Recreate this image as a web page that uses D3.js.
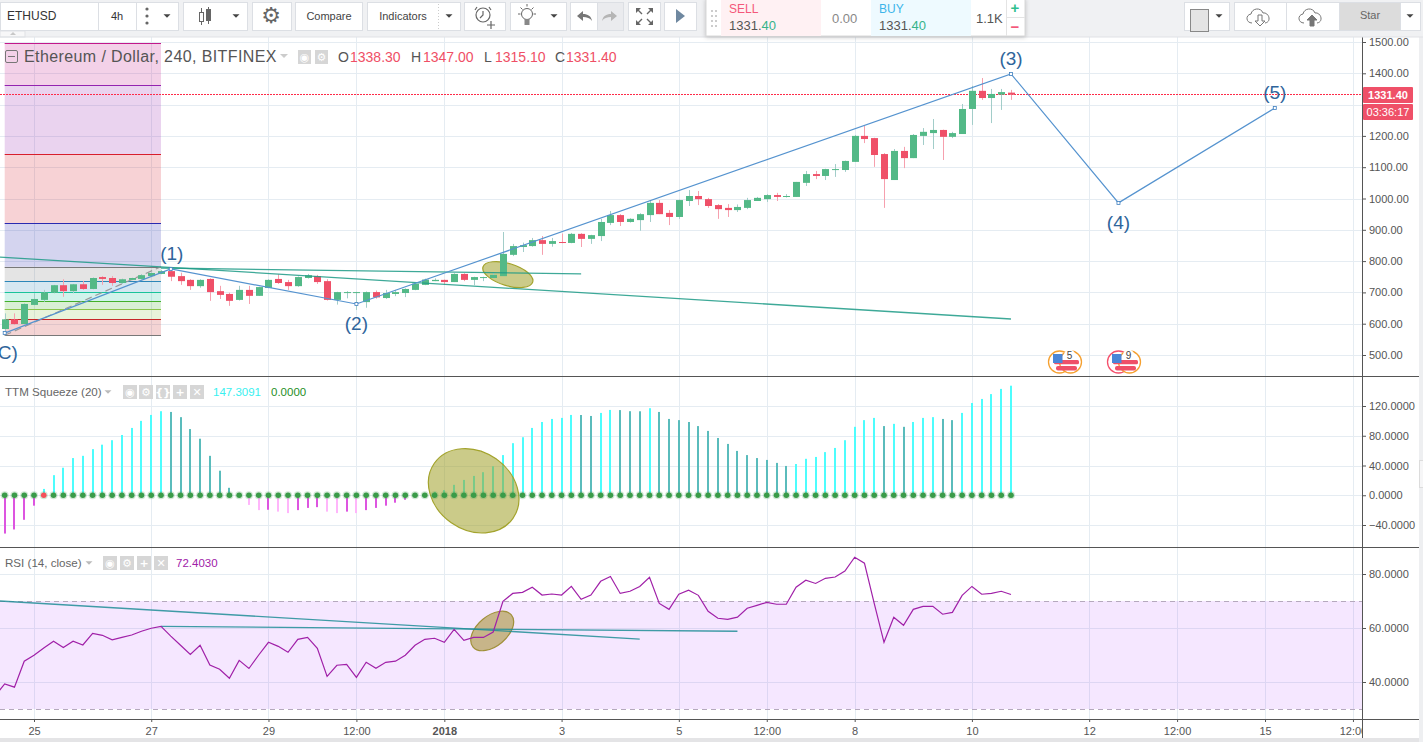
<!DOCTYPE html>
<html>
<head>
<meta charset="utf-8">
<title>ETHUSD</title>
<script src="https://cdnjs.cloudflare.com/ajax/libs/d3/7.8.5/d3.min.js"></script>
<style>
  html, body { margin: 0; padding: 0; background: #fff; overflow: hidden; }
  text { font-family: "Liberation Sans", Arial, sans-serif; }
</style>
</head>
<body>
<svg id="chart" width="1423" height="742"></svg>
<script>
// bar numbers count 4h bars from Dec 25 (0); the first candle is bar -3
const firstBar = -3;
const candleOpen = [583,614,599,660,676,699,723,704,726,711,749,746,730,740,743,752,759,768,752,740,
  720,743,704,695,676,708,689,714,743,733,720,746,752,736,676,699,701,669,701,682,
  695,698,708,724,736,740,733,759,740,746,746,752,820,845,848,867,855,861,858,887,
  871,880,922,947,925,931,947,986,954,941,992,1008,998,979,970,963,970,992,998,1011,
  1005,1005,1050,1078,1072,1091,1091,1117,1200,1193,1142,1059,1152,1129,1200,1209,1219,1197,1206,1286,
  1344,1321,1332,1338.3];
const candleClose = [614,599,663,679,700,723,704,726,711,746,743,730,742,746,755,762,768,750,736,720,
  740,701,692,673,708,689,717,740,730,720,749,755,733,676,701,701,701,701,684,698,
  701,711,728,741,740,733,759,740,749,749,756,823,848,851,867,855,864,858,887,871,
  883,925,947,925,935,950,986,950,941,995,1008,998,976,966,963,973,995,1002,1011,1005,
  1008,1053,1078,1072,1094,1094,1120,1200,1190,1139,1062,1152,1129,1203,1213,1219,1197,1209,1286,1344,
  1321,1334,1340,1331.4];
const candleHigh = [633,633,665,697,708,724,742,727,737,748,752,752,744,747,758,764,772,774,763,742,
  742,745,721,699,721,721,718,742,758,740,751,759,756,742,702,704,702,703,706,708,
  708,713,730,744,745,741,761,761,750,750,765,893,855,859,874,880,874,888,890,889,
  884,935,960,950,937,953,995,995,963,997,1027,1024,1002,982,982,981,1002,1005,1014,1018,
  1014,1053,1088,1088,1095,1110,1121,1203,1232,1194,1145,1158,1165,1206,1225,1254,1220,1213,1302,1360,
  1385,1350,1350,1347];
const candleLow = [575,596,598,659,670,697,686,697,708,710,724,721,727,739,741,750,758,736,724,708,
  715,673,679,657,674,663,689,713,727,708,718,744,727,674,661,681,644,651,680,679,
  688,685,707,723,736,725,733,736,723,736,745,752,816,829,846,820,846,857,857,845,
  855,864,915,912,923,897,925,950,915,935,976,979,970,935,941,957,966,992,989,992,
  1003,1005,1040,1062,1059,1069,1085,1117,1177,1101,970,1059,1097,1129,1171,1158,1123,1193,1206,1235,
  1315,1241,1283,1315.1];

const ttmValues = [-51.5,-46,-33,-14,8.5,27,37,50,53,62,68,74,81,90.5,100,108,113,112,105,89,
  76,53,33,10,0,-13,-20,-19.5,-22,-24,-20,-17,-16,-22,-24,-22,-24,-20,-17,-14,
  -10,-6,-2.5,0,4.5,7,14,20.6,26,31,39,54,70,78,90.5,98.5,102.6,104,108,107.9,
  106.6,110.7,114.7,114.5,113,112.9,117,112,102.6,101,98.5,93,86.5,77,69,59.6,54,50,47.5,43.5,
  39.4,42,49,51.5,58,63.6,74,92,101,104,93,96,92,98.5,104,105,102.6,101,110.7,124,
  129.5,136,143,147.3];
const ttmRedDots = [1];

// RSI starts one bar earlier, that bar is cut by the left edge of the pane
const rsiFirstBar = -4;
const rsiValues = [34.8,39.3,38.1,47.7,49.9,52.6,55.1,52.8,55.1,53.7,58,57.3,55.6,56.5,57.4,58.8,59.9,60.6,57,53.6,
  50.2,53.6,46.3,44.7,41.4,48,45,50,54.7,53.2,51,55.8,56.5,52.5,42.1,46.2,46.5,41.7,47.3,45.1,
  47.3,47.7,49.9,53.6,55.8,56.2,54.7,59.5,55.4,56.5,56.5,58.5,69.9,72.8,73.2,75.1,72.2,72.6,72.2,75.4,
  70.6,72.2,77.3,79.1,72.8,73.6,75.4,78.8,69.1,66.9,72.5,74,72.1,66.2,63.6,63.2,64,67.3,68.4,69.5,
  68.8,68.8,75.1,77.7,76.5,78.4,78.9,81.1,86.2,84,69.1,54.7,64,61,66.9,68,68,65.1,65.8,72.1,
  75.4,72.5,72.8,73.6,72.4];

const priceTicks = [500,600,700,800,900,1000,1100,1200,1300,1400,1500];
const ttmTicks = [-40,0,40,80,120];
const rsiTicks = [40,60,80];
const timeTicks = [0,12,24,33,42,54,66,75,84,96,108,117,126,135];
const timeLabels = ["25","27","29","12:00","2018","3","5","12:00","8","10","12","12:00","15","12:00"];

const waveBars = [-3,14,33,100,111,127];
const wavePrices = [570,775,663,1398,986,1289];
const waveLabels = ["(C)","(1)","(2)","(3)","(4)","(5)"];

const fibPrices = [563,614,646,672,701,735,782,921,1141,1362,1496];
const fibColors = ["#787878","#c62828","#8bc34a","#43b02a","#19c39a","#2b86b8","#787878","#2a2ab0","#d81e2c","#9423b0","#c2188b"];
const fibBars = [-3,13];

const trendBars = [[-3.48,100],[13,56]];
const trendPrices = [[813,615],[778,759]];
const rsiTrendBars = [[-3.48,62],[13,72]];
const rsiTrendValues = [[70,55.9],[60.6,58.8]];

const lastPrice = 1331.4;

const svg = d3.select("#chart");
const W = 1423, H = 742, axisX = 1362, paneRight = 1419;

const x = d3.scaleLinear().domain([0,100]).range([34,1011]);
const yPrice = d3.scaleLinear().domain([500,1500]).range([355,42]);
const yTtm = d3.scaleLinear().domain([-40,120]).range([525,406]);
const yRsi = d3.scaleLinear().domain([30,80]).range([709,574]);

const green = "#53b987", red = "#ef5068", greenWick = "#a2cdc9", redWick = "#f6a0ae";
const gridColor = "#e5ecf2", frameColor = "#555", waveColor = "#5593cf", teal = "#1c9a86";

svg.append("rect").attr("width",W).attr("height",H).attr("fill","#fff");

// clip for the three panes
const defs = svg.append("defs");
[["clipMain",37,376],["clipTtm",377,547],["clipRsi",548,719],["clipTime",719,738]].forEach((c) => {
  defs.append("clipPath").attr("id",c[0]).append("rect")
    .attr("x",0).attr("y",c[1]).attr("width",axisX).attr("height",c[2]-c[1]);
});
const mainG = svg.append("g").attr("clip-path","url(#clipMain)");
const ttmG = svg.append("g").attr("clip-path","url(#clipTtm)");
const rsiG = svg.append("g").attr("clip-path","url(#clipRsi)");

// grid
function grid(g, scale, ticks, top, bottom) {
  g.append("g").selectAll("line").data(ticks).join("line")
    .attr("x1",0).attr("x2",axisX)
    .attr("y1",(d) => Math.round(scale(d))+0.5).attr("y2",(d) => Math.round(scale(d))+0.5)
    .attr("stroke",gridColor);
  g.append("g").selectAll("line").data(timeTicks).join("line")
    .attr("x1",(d) => Math.round(x(d))+0.5).attr("x2",(d) => Math.round(x(d))+0.5)
    .attr("y1",top).attr("y2",bottom)
    .attr("stroke",gridColor);
}
grid(mainG,yPrice,priceTicks,37,376);
grid(ttmG,yTtm,ttmTicks,377,547);
grid(rsiG,yRsi,rsiTicks,548,719);

// fib bands, each one takes the colour of the level above it
const fibG = mainG.append("g");
fibG.selectAll("rect").data(fibPrices.slice(1)).join("rect")
  .attr("x",x(fibBars[0])).attr("width",x(fibBars[1])-x(fibBars[0]))
  .attr("y",(d) => yPrice(d))
  .attr("height",(d,i) => yPrice(fibPrices[i])-yPrice(d))
  .attr("fill",(d,i) => fibColors[i+1])
  .attr("fill-opacity",0.2);
fibG.selectAll("line").data(fibPrices).join("line")
  .attr("x1",x(fibBars[0])).attr("x2",x(fibBars[1]))
  .attr("y1",(d) => Math.round(yPrice(d))+0.5).attr("y2",(d) => Math.round(yPrice(d))+0.5)
  .attr("stroke",(d,i) => fibColors[i]);
mainG.append("line")
  .attr("x1",x(waveBars[0])).attr("x2",x(fibBars[1]))
  .attr("y1",yPrice(fibPrices[0])).attr("y2",yPrice(fibPrices[6]))
  .attr("stroke","#999").attr("stroke-width",1.2).attr("stroke-dasharray","7 4");

// last price line
mainG.append("line")
  .attr("x1",0).attr("x2",axisX)
  .attr("y1",Math.floor(yPrice(lastPrice))+0.5).attr("y2",Math.floor(yPrice(lastPrice))+0.5)
  .attr("stroke","#ff2a48").attr("stroke-dasharray","2 1");

// yellow ellipse behind the candles
function blob(g, bar, yPos, rx, ry, angle, fill, stroke) {
  g.append("ellipse").attr("rx",rx).attr("ry",ry)
    .attr("transform",`translate(${x(bar)},${yPos}) rotate(${angle})`)
    .attr("fill",fill).attr("stroke",stroke).attr("stroke-width",1.2);
}
blob(mainG,48.5,yPrice(757),26,11,17,"rgba(160,160,40,0.55)","#a3a32c");

// candles
const candles = candleOpen.map((o,i) => ({
  bar: firstBar+i, o: o, c: candleClose[i], h: candleHigh[i], l: candleLow[i],
}));
const candleG = mainG.append("g").selectAll("g").data(candles).join("g");
candleG.append("line")
  .attr("x1",(d) => Math.round(x(d.bar))+0.5).attr("x2",(d) => Math.round(x(d.bar))+0.5)
  .attr("y1",(d) => yPrice(d.h)).attr("y2",(d) => yPrice(d.l))
  .attr("stroke",(d) => (d.c >= d.o ? greenWick : redWick));
candleG.append("rect")
  .attr("x",(d) => Math.round(x(d.bar))-3).attr("width",7)
  .attr("y",(d) => yPrice(Math.max(d.o,d.c)))
  .attr("height",(d) => Math.max(1,Math.abs(yPrice(d.o)-yPrice(d.c))))
  .attr("fill",(d) => (d.c >= d.o ? green : red));

// trend lines
trendBars.forEach((b,i) => {
  mainG.append("line")
    .attr("x1",x(b[0])).attr("x2",x(b[1]))
    .attr("y1",yPrice(trendPrices[i][0])).attr("y2",yPrice(trendPrices[i][1]))
    .attr("stroke",teal).attr("stroke-opacity",0.85).attr("stroke-width",1.3);
});

// wave
const waveLine = d3.line().x((d) => x(d[0])).y((d) => yPrice(d[1]));
const wavePts = waveBars.map((b,i) => [b,wavePrices[i]]);
mainG.append("path").attr("d",waveLine(wavePts)).attr("fill","none")
  .attr("stroke",waveColor).attr("stroke-width",1.2);
mainG.selectAll(".handle").data(wavePts).join("rect").attr("class","handle")
  .attr("x",(d) => x(d[0])-1.5).attr("y",(d) => yPrice(d[1])-1.5)
  .attr("width",3).attr("height",3)
  .attr("fill","#fff").attr("stroke","#3f7fbf").attr("stroke-width",0.8);
mainG.selectAll(".wave").data(waveLabels).join("text").attr("class","wave")
  .attr("x",(d,i) => x(waveBars[i])+(i === 1 ? 1 : 0))
  .attr("y",(d,i) => yPrice(wavePrices[i])+([0,2,4].includes(i) ? 19 : -16))
  .attr("dy","0.35em").attr("text-anchor","middle")
  .attr("font-size",19).attr("fill","#2f659b").text((d) => d);

// economic calendar badges
function badge(cx, leftColor, label) {
  const g = mainG.append("g").attr("transform",`translate(${cx},362)`);
  g.append("circle").attr("cx",-5.5).attr("r",11).attr("fill","#fff").attr("stroke",leftColor).attr("stroke-width",1.3);
  g.append("circle").attr("cx",5.5).attr("r",11).attr("fill","#fff").attr("stroke","#f5a030").attr("stroke-width",1.3);
  g.append("circle").attr("cx",4.5).attr("cy",-7).attr("r",5.5).attr("fill","#fff");
  g.append("rect").attr("x",-11).attr("y",-2).attr("width",25).attr("height",4.3).attr("rx",1.5).attr("fill","#ef5068");
  g.append("rect").attr("x",-9).attr("y",4).attr("width",21).attr("height",4.5).attr("rx",2).attr("fill","#ef5068");
  g.append("rect").attr("x",-12).attr("y",-8).attr("width",9.5).attr("height",9).attr("fill","#4a86d8");
  g.append("text").attr("x",4.5).attr("y",-3.5).attr("font-size",10).attr("text-anchor","middle").attr("fill","#444").text(label);
}
badge(1065,"#f5a030","5");
badge(1124,"#f4506c","9");

// TTM Squeeze
function ttmColor(d, i) {
  const prev = i > 0 ? ttmValues[i-1] : d-1;
  if (d >= 0) return d >= prev ? "#4dfdfd" : "#5abcbc";
  return d >= prev ? "#dd55e0" : "#ffb6fb";
}
ttmG.append("g").selectAll("rect").data(ttmValues).join("rect")
  .attr("x",(d,i) => Math.round(x(firstBar+i))-1).attr("width",2)
  .attr("y",(d) => Math.min(yTtm(d),yTtm(0)))
  .attr("height",(d) => Math.abs(yTtm(d)-yTtm(0)))
  .attr("fill",ttmColor);
blob(ttmG,45,yTtm(6),48,39,35,"rgba(160,160,40,0.55)","#a3a32c");
ttmG.append("g").selectAll("circle").data(ttmValues).join("circle")
  .attr("cx",(d,i) => x(firstBar+i)).attr("cy",yTtm(0)).attr("r",4)
  .attr("fill","#4aa55a").attr("fill-opacity",0.25);
ttmG.append("g").selectAll("circle").data(ttmValues).join("circle")
  .attr("cx",(d,i) => x(firstBar+i)).attr("cy",yTtm(0)).attr("r",2.8)
  .attr("fill",(d,i) => (ttmRedDots.includes(firstBar+i) ? "#f4505a" : "#3a9b48"));

// RSI
rsiG.append("rect")
  .attr("x",0).attr("width",axisX)
  .attr("y",yRsi(70)).attr("height",yRsi(30)-yRsi(70))
  .attr("fill","#9915ff").attr("fill-opacity",0.1);
rsiG.selectAll(".band").data([70,30]).join("line").attr("class","band")
  .attr("x1",0).attr("x2",axisX)
  .attr("y1",(d) => Math.round(yRsi(d))+0.5).attr("y2",(d) => Math.round(yRsi(d))+0.5)
  .attr("stroke","#b5a9bd").attr("stroke-dasharray","5 4");
blob(rsiG,46.9,yRsi(58.9),25,15,-40,"rgba(160,140,40,0.55)","#a0903a");
rsiTrendBars.forEach((b,i) => {
  rsiG.append("line")
    .attr("x1",x(b[0])).attr("x2",x(b[1]))
    .attr("y1",yRsi(rsiTrendValues[i][0])).attr("y2",yRsi(rsiTrendValues[i][1]))
    .attr("stroke","#1e8d96").attr("stroke-opacity",0.85).attr("stroke-width",1.3);
});
rsiG.append("path")
  .attr("d",d3.line().x((d,i) => x(rsiFirstBar+i)).y((d) => yRsi(d))(rsiValues))
  .attr("fill","none").attr("stroke","#a020a8").attr("stroke-width",1.2);

// axes, the 1300 label sits under the last price badge so it is left out
function styleAxis(g) {
  g.select(".domain").remove();
  g.selectAll(".tick line").attr("stroke",frameColor);
  g.selectAll(".tick text").attr("fill","#555").attr("font-size",11)
    .attr("font-family",'"Liberation Sans", Arial, sans-serif');
}
svg.append("g").attr("transform",`translate(${axisX},0)`)
  .call(d3.axisRight(yPrice).tickValues(priceTicks.filter((d) => d !== 1300)).tickFormat(d3.format(".2f")).tickSize(4).tickPadding(3))
  .call(styleAxis);
svg.append("g").attr("transform",`translate(${axisX},0)`)
  .call(d3.axisRight(yTtm).tickValues(ttmTicks).tickFormat(d3.format(".4f")).tickSize(4).tickPadding(3))
  .call(styleAxis);
svg.append("g").attr("transform",`translate(${axisX},0)`)
  .call(d3.axisRight(yRsi).tickValues(rsiTicks).tickFormat(d3.format(".4f")).tickSize(4).tickPadding(3))
  .call(styleAxis);
const timeAxis = svg.append("g").attr("clip-path","url(#clipTime)")
  .append("g").attr("transform","translate(0,719)")
  .call(d3.axisBottom(x).tickValues(timeTicks).tickFormat((d,i) => timeLabels[i]).tickSize(3).tickPadding(5))
  .call(styleAxis);
timeAxis.selectAll(".tick text").attr("font-size",11)
  .attr("font-weight",(d,i) => (timeLabels[i] === "2018" ? "bold" : "normal"));

// pane frames
[376.5,547.5,719.5].forEach((y) => {
  svg.append("line").attr("x1",0).attr("x2",paneRight).attr("y1",y).attr("y2",y).attr("stroke",frameColor);
});
svg.append("line").attr("x1",axisX+0.5).attr("x2",axisX+0.5).attr("y1",37).attr("y2",738).attr("stroke",frameColor);

// bottom and right edges
svg.append("rect").attr("x",0).attr("y",738).attr("width",W).attr("height",4).attr("fill","#e4e4e6");
svg.append("rect").attr("x",paneRight).attr("y",37).attr("width",W-paneRight).attr("height",H-37).attr("fill","#eeeff1");
svg.append("rect").attr("x",paneRight+0.5).attr("y",460.5).attr("width",4).attr("height",27).attr("fill","#f6f6f7").attr("stroke","#dcdcdc");

// last price badges
[["1331.40",87],["03:36:17",104]].forEach((b) => {
  svg.append("rect").attr("x",1363).attr("y",b[1]).attr("width",50).attr("height",16).attr("rx",1).attr("fill",red);
  svg.append("text").attr("x",1388).attr("y",b[1]+8).attr("dy","0.35em").attr("text-anchor","middle")
    .attr("font-size",11).attr("font-weight",b[1] === 87 ? "bold" : "normal").attr("fill","#fff").text(b[0]);
});

// legends
function label(txt, xPos, yPos, size, color, extra) {
  const t = svg.append("text").attr("x",xPos).attr("y",yPos).attr("dy","0.35em")
    .attr("font-size",size).attr("fill",color).text(txt);
  if (extra) t.attr("text-anchor",extra);
  return t;
}
function caret(xPos, yPos, color, size) {
  svg.append("path").attr("d",`M${xPos-size},${yPos-size/2}h${size*2}l${-size},${size}z`).attr("fill",color);
}
function chip(xPos, yPos, glyph, w) {
  svg.append("rect").attr("x",xPos).attr("y",yPos).attr("width",w).attr("height",14).attr("fill","#d6d6d6");
  svg.append("text").attr("x",xPos+w/2).attr("y",yPos+7).attr("dy","0.35em").attr("text-anchor","middle")
    .attr("font-size",11).attr("font-weight","bold").attr("fill","#fff")
    .style("font-family","DejaVu Sans").text(glyph);
}
svg.append("rect").attr("x",5.5).attr("y",50.5).attr("width",12).attr("height",12).attr("rx",1.5)
  .attr("fill","none").attr("stroke","#777");
svg.append("line").attr("x1",8).attr("x2",15).attr("y1",56.5).attr("y2",56.5).attr("stroke","#777");
label("Ethereum / Dollar, 240, BITFINEX",24,56,16,"#555").attr("letter-spacing",0.4);
caret(284,56,"#ccc",4);
chip(298,50,"◉",13);
chip(315,50,"⚙",13);
const ohlc = [["O","1338.30",338,350],["H","1347.00",411,423],["L","1315.10",484,495],["C","1331.40",555,566]];
ohlc.forEach((d) => {
  label(d[0],d[2],57,14,"#555");
  label(d[1],d[3],57,14,"#ef4f66");
});

label("TTM Squeeze (20)",5,392,11.6,"#666");
caret(108,392,"#bbb",3.5);
[["◉",123],["⚙",139],["{}",156],["+",173],["✕",190]].forEach((d) => chip(d[1],385,d[0],14));
label("147.3091",213,392,11.5,"#38f0f0");
label("0.0000",271,392,11.5,"#1f8f1f");

label("RSI (14, close)",5,563,11.6,"#666");
caret(89,563,"#bbb",3.5);
[["◉",103],["⚙",120],["+",137],["✕",154]].forEach((d) => chip(d[1],556,d[0],14));
label("72.4030",176,563,11.5,"#a020a8");

// toolbar
svg.append("rect").attr("width",W).attr("height",37).attr("fill","#f0f1f3");
svg.append("rect").attr("x",0).attr("y",31).attr("width",25).attr("height",6).attr("fill","#f7f7f8").attr("stroke","#dfe1e5");
svg.append("path").attr("d","M10,35l3,-3l3,3z").attr("fill","#c8c8c8");
svg.append("rect").attr("x",0).attr("y",36.5).attr("width",W).attr("height",1).attr("fill","#dfe1e5");

const iconColor = "#666";
function box(x0, x1, fill) {
  svg.append("rect").attr("x",x0+0.5).attr("y",2.5).attr("width",x1-x0).attr("height",28)
    .attr("fill",fill || "#fff").attr("stroke","#dcdfe4");
}
[[0,98],[98,136],[136,178],[183,247],[252,291],[295,362],[367,460],[464,505],[510,566],[570,623],[628,660],[664,696],
 [1184,1229],[1234,1286],[1286,1339],[1339,1420]].forEach((b) => box(b[0],b[1]));
box(597,623,"#eaebee");
box(1339,1400,"#dcdcdc");

label("ETHUSD",7,16,12,"#333");
label("4h",117,16,11,"#333","middle");
[9,16,23].forEach((yy) => svg.append("circle").attr("cx",147).attr("cy",yy).attr("r",1.6).attr("fill",iconColor));
caret(167,16,"#444",3.5);
// candle icon
svg.append("line").attr("x1",201.5).attr("x2",201.5).attr("y1",8).attr("y2",25).attr("stroke","#666");
svg.append("rect").attr("x",199.5).attr("y",12.5).attr("width",4).attr("height",9).attr("fill","#fff").attr("stroke","#666");
svg.append("line").attr("x1",208.5).attr("x2",208.5).attr("y1",7).attr("y2",24).attr("stroke","#666");
svg.append("rect").attr("x",206.5).attr("y",9.5).attr("width",4).attr("height",11).attr("fill","#666").attr("stroke","#666");
caret(236,16,"#444",3.5);
label("⚙",271,15,22,iconColor,"middle").style("font-family","DejaVu Sans");
label("Compare",329,16,11,"#444","middle");
label("Indicators",403,16,11,"#444","middle");
svg.append("line").attr("x1",438.5).attr("x2",438.5).attr("y1",4).attr("y2",29).attr("stroke","#ccc").attr("stroke-dasharray","1 2");
caret(449,16,"#444",3.5);
// alarm icon
svg.append("circle").attr("cx",483).attr("cy",15).attr("r",7).attr("fill","none").attr("stroke",iconColor).attr("stroke-width",1.2);
svg.append("path").attr("d","M483,11v4l-3,3M477,7l-2,3M489,7l2,3M487,25h8M491,21v8").attr("fill","none").attr("stroke",iconColor).attr("stroke-width",1.2);
// bulb icon
svg.append("circle").attr("cx",527).attr("cy",14).attr("r",5.5).attr("fill","none").attr("stroke",iconColor);
svg.append("rect").attr("x",524.5).attr("y",19).attr("width",5).attr("height",6).attr("fill","#888");
svg.append("path").attr("d","M527,4v2.5M518,14h2.5M533.5,14h2.5M520.5,7.5l2,2M533.5,7.5l-2,2").attr("stroke",iconColor);
caret(554,16,"#444",3.5);
// undo and redo
svg.append("path").attr("d","M577,16l6,-5v3c5,0 8,2 9,7c-2,-3 -5,-4 -9,-4v4z").attr("fill","#777");
svg.append("path").attr("d","M617,16l-6,-5v3c-5,0 -8,2 -9,7c2,-3 5,-4 9,-4v4z").attr("fill","#b5b5b5");
// fullscreen, four small arrows pointing to the corners
svg.append("path").attr("d","M636,8h5l-5,5zM653,8v5l-5,-5zM636,25v-5l5,5zM653,25h-5l5,-5z").attr("fill","#666");
svg.append("path").attr("d","M638,10l4,4M651,10l-4,4M638,23l4,-4M651,23l-4,-4").attr("stroke","#666").attr("stroke-width",1.4);
// play
svg.append("path").attr("d","M676,9l9,7l-9,7z").attr("fill","#6f88a0");

// buy and sell widget
svg.append("rect").attr("x",706).attr("y",-1).attr("width",319).attr("height",37).attr("fill","#fff")
  .attr("stroke","#d8d8d8").style("filter","drop-shadow(0 1px 2px rgba(0,0,0,0.2))");
svg.append("rect").attr("x",721).attr("y",0).attr("width",100).attr("height",36).attr("fill","#fff1f3");
svg.append("rect").attr("x",871).attr("y",0).attr("width",100).attr("height",36).attr("fill","#eefaff");
[[711,6],[715,6],[711,11],[715,11],[711,16],[715,16],[711,21],[715,21]].forEach((p) => {
  svg.append("rect").attr("x",p[0]).attr("y",p[1]+4).attr("width",2).attr("height",2).attr("fill","#ccc");
});
label("SELL",729,9,12,"#f4587a");
label("BUY",879,9,12,"#3cb5ea");
[[729,25],[879,25]].forEach((p) => {
  const t = label("1331.",p[0],p[1],13,"#555");
  t.append("tspan").attr("fill","#36b38a").text("40");
});
label("0.00",832,18,13,"#888");
label("1.1K",976,18,13,"#555");
svg.append("line").attr("x1",1006.5).attr("x2",1006.5).attr("y1",0).attr("y2",36).attr("stroke","#e4e4e4");
svg.append("line").attr("x1",1006).attr("x2",1025).attr("y1",17.5).attr("y2",17.5).attr("stroke","#e4e4e4");
label("+",1015,8,15,"#2fbf8f","middle").attr("font-weight","bold");
label("−",1015,27,15,"#f4587a","middle").attr("font-weight","bold");

// right side of toolbar
svg.append("rect").attr("x",1190.5).attr("y",9.5).attr("width",18).attr("height",22).attr("fill","#e4e4e4").attr("stroke","#888");
caret(1219,16,"#444",3.5);
function cloud(cx, filled) {
  const g = svg.append("g").attr("transform",`translate(${cx},17)`);
  g.append("path").attr("d","M-8,6c-6,0 -7,-8 -1,-9c1,-6 10,-7 12,-1c6,-1 9,9 2,10")
    .attr("fill","none").attr("stroke","#777");
  g.append("path").attr("d",filled ? "M0,-2l5,5h-3v6h-4v-6h-3z" : "M0,9l5,-5h-3v-6h-4v6h-3z")
    .attr("fill",filled ? "#777" : "#fff").attr("stroke","#777");
}
cloud(1260,false);
cloud(1312,true);
label("Star",1370,15,11,"#666","middle");
caret(1410,16,"#444",3.5);
</script>
</body>
</html>
